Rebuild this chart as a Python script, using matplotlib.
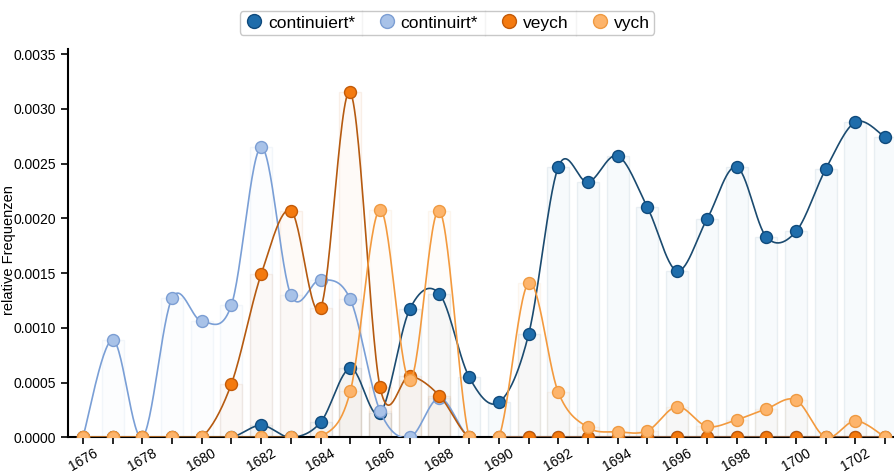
import numpy as np
import matplotlib
matplotlib.use("Agg")
import matplotlib.pyplot as plt
from matplotlib.lines import Line2D
from matplotlib.colors import to_rgba

plt.rcParams['font.family'] = ['Liberation Sans', 'DejaVu Sans']

years = list(range(1676, 1704))

continuiert = [0, 0, 0, 0, 0, 0, 0.00011, 0, 0.000137, 0.00063, 0.00022, 0.00117, 0.00131,
               0.00055, 0.00032, 0.00094, 0.00247, 0.00233, 0.00257, 0.00210, 0.00152,
               0.00199, 0.00247, 0.00183, 0.00188, 0.00245, 0.00288, 0.00274]
continuirt = [0, 0.00089, 0, 0.00127, 0.00106, 0.00121, 0.00265, 0.00130, 0.00144, 0.00126,
              0.00024, 0, 0.00036, 0, 0, 0, 0, 0, 0, 0, 0, 0, 0, 0, 0, 0, 0, 0]
veych = [0, 0, 0, 0, 0, 0.00049, 0.00149, 0.00207, 0.00118, 0.00315, 0.00046, 0.00056,
         0.00038, 0, 0, 0, 0, 0, 0, 0, 0, 0, 0, 0, 0, 0, 0, 0]
vych = [0, 0, 0, 0, 0, 0, 0, 0, 0, 0.00042, 0.00208, 0.00052, 0.00207, 0, 0, 0.00141,
        0.00041, 0.00009, 0.00005, 0.00006, 0.00028, 0.00010, 0.00016, 0.00026, 0.00034,
        0, 0.00015, 0]

series = [
    ("continuiert*", continuiert, "#1f6dab", "#0f4a7c", "#1b4b70"),
    ("continuirt*", continuirt, "#a8c2e8", "#7c9ed3", "#7a9fd6"),
    ("veych", veych, "#f47a0f", "#c25a08", "#b55a10"),
    ("vych", vych, "#fdb46b", "#ef9a42", "#f39a3e"),
]


def catmull(xs, ys, n=30):
    xs = np.asarray(xs, float)
    ys = np.asarray(ys, float)
    px = np.concatenate([[xs[0]], xs, [xs[-1]]])
    py = np.concatenate([[ys[0]], ys, [ys[-1]]])
    out_x, out_y = [], []
    for i in range(1, len(px) - 2):
        t = np.linspace(0, 1, n)
        m0x = (px[i + 1] - px[i - 1]) / 2
        m1x = (px[i + 2] - px[i]) / 2
        m0y = (py[i + 1] - py[i - 1]) / 2
        m1y = (py[i + 2] - py[i]) / 2
        h00 = 2 * t**3 - 3 * t**2 + 1
        h10 = t**3 - 2 * t**2 + t
        h01 = -2 * t**3 + 3 * t**2
        h11 = t**3 - t**2
        out_x.append(h00 * px[i] + h10 * m0x + h01 * px[i + 1] + h11 * m1x)
        out_y.append(h00 * py[i] + h10 * m0y + h01 * py[i + 1] + h11 * m1y)
    return np.concatenate(out_x), np.concatenate(out_y)


fig = plt.figure(figsize=(8.94, 4.72), dpi=100)
ax = fig.add_axes([0.0761, 0.0735, 0.924, 0.8235])

# faint bars behind
for name, vals, face, edge, line in series:
    ax.bar(years, vals, width=0.74, color=to_rgba(face, 0.03),
           edgecolor=to_rgba(edge, 0.08), linewidth=1.0, zorder=1)

for k, (name, vals, face, edge, line) in enumerate(series):
    sx, sy = catmull(years, vals)
    ax.plot(sx, sy, color=line, linewidth=1.2, zorder=2 + k * 2)
    ax.plot(years, vals, linestyle="none", marker="o", markersize=8.6,
            markerfacecolor=face, markeredgecolor=edge, markeredgewidth=1.0,
            zorder=3 + k * 2)

ax.set_xlim(1675.5, 1703.3)
ax.set_ylim(0, 0.00355)
ax.set_yticks(np.arange(0, 0.0036, 0.0005))
ax.set_yticklabels([f"{v:.4f}" for v in np.arange(0, 0.0036, 0.0005)], fontsize=10)
ax.set_xticks(years)
ax.set_xticklabels([str(y) if y % 2 == 0 else "" for y in years], rotation=30,
                   fontsize=10, ha="center")
ax.tick_params(axis="x", pad=1)
ax.tick_params(axis="both", length=5, width=1.2, direction="out")
fig.text(0.0105, 0.47, "relative Frequenzen", rotation=90, ha="center", va="center",
         fontsize=10.5)
for s in ["top", "right"]:
    ax.spines[s].set_visible(False)
for s in ["left", "bottom"]:
    ax.spines[s].set_linewidth(1.5)

handles = [Line2D([], [], linestyle="none", marker="o", markersize=10,
                  markerfacecolor=f, markeredgecolor=e, markeredgewidth=1.0)
           for _, _, f, e, _ in series]
leg = fig.legend(handles, [s[0] for s in series], loc="upper center",
                 bbox_to_anchor=(0.5, 0.995), ncol=4, fontsize=12.5, frameon=True,
                 handletextpad=0.2, columnspacing=1.2, handlelength=1.2,
                 borderpad=0.25, fancybox=True, edgecolor="#bbbbbb")
leg.get_frame().set_linewidth(1.0)

fig.canvas.draw()
renderer = fig.canvas.get_renderer()
texts = leg.get_texts()
fb = leg.get_frame().get_window_extent(renderer)
for i in range(len(texts) - 1):
    b1 = texts[i].get_window_extent(renderer)
    b2 = leg.legend_handles[i + 1].get_window_extent(renderer)
    xm = (b1.x1 + b2.x0) / 2
    xf = xm / fig.bbox.width
    fig.add_artist(Line2D([xf, xf], [fb.y0 / fig.bbox.height, fb.y1 / fig.bbox.height],
                          color="#cccccc", linewidth=1.0))

fig.savefig("out.png", dpi=100)
